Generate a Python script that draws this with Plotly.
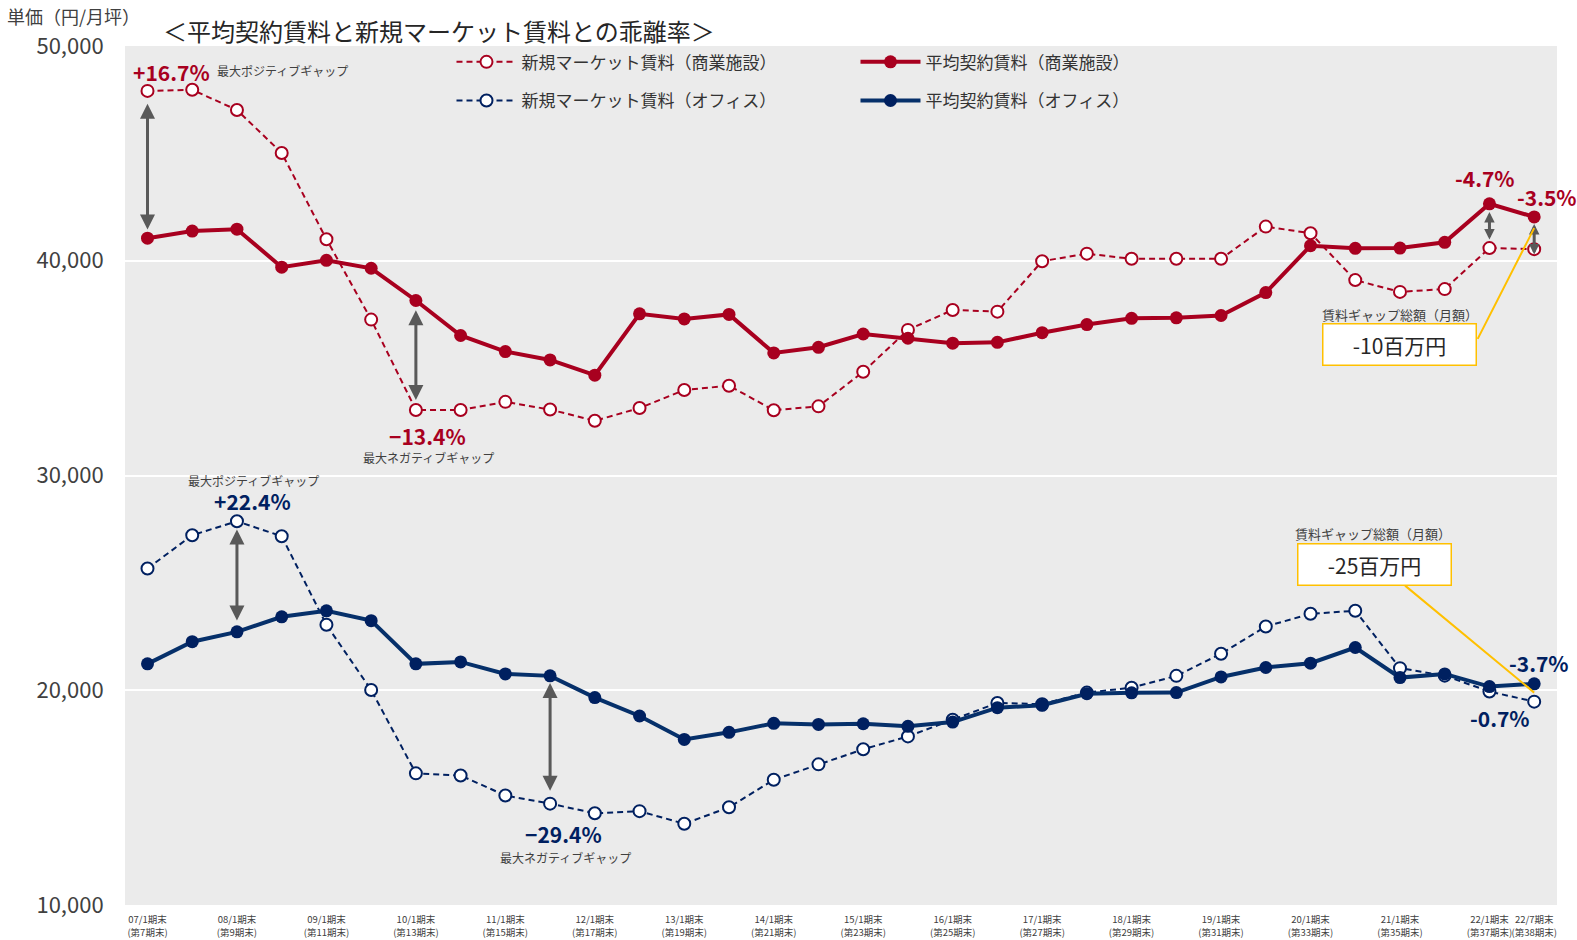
import plotly.graph_objects as go

# 期末ラベル (07/1期末 ~ 22/7期末, 第7期 ~ 第38期)
periods = list(range(32))
tick_pos = list(range(0, 32, 2)) + [31]
tick_text = [f"{y:02d}/1期末<br>(第{7 + 2 * i}期末)" for i, y in enumerate(range(7, 23))] + ["22/7期末<br>(第38期末)"]

# 商業施設
retail_market = [47910, 47960, 47020, 45020, 41000, 37260, 33050, 33050, 33430, 33070, 32550,
                 33140, 33980, 34180, 33040, 33220, 34830, 36780, 37710, 37630, 39980, 40330,
                 40090, 40090, 40090, 41590, 41280, 39100, 38550, 38680, 40590, 40540]
retail_avg = [41050, 41380, 41470, 39700, 40020, 39650, 38150, 36520, 35770, 35380, 34670,
              37530, 37290, 37500, 35710, 35970, 36590, 36390, 36160, 36200, 36650, 37030,
              37320, 37340, 37450, 38520, 40700, 40580, 40590, 40860, 42650, 42040]

# オフィス
office_market = [25670, 27220, 27870, 27170, 23050, 20010, 16130, 16030, 15100, 14720, 14270,
                 14370, 13780, 14550, 15830, 16550, 17250, 17850, 18630, 19410, 19350, 19890,
                 20120, 20670, 21700, 22970, 23560, 23700, 21030, 20680, 19940, 19470]
office_avg = [21230, 22260, 22720, 23420, 23700, 23240, 21230, 21320, 20760, 20670, 19660,
              18800, 17710, 18040, 18460, 18410, 18440, 18320, 18520, 19190, 19300, 19840,
              19880, 19890, 20620, 21060, 21260, 21990, 20590, 20760, 20170, 20300]

RED = "#A8001F"
NAVY = "#002060"
NAVY_LINE = "#06306A"
GREY = "#595959"
YELLOW = "#FFC000"
FONT = "Noto Sans CJK JP"

fig = go.Figure()

fig.add_trace(go.Scatter(
    x=periods, y=retail_market, name="新規マーケット賃料（商業施設）", mode="lines+markers",
    line=dict(color=RED, width=2, dash="6px,4px"),
    marker=dict(size=12, color="white", line=dict(color=RED, width=2)),
    legend="legend",
))
fig.add_trace(go.Scatter(
    x=periods, y=retail_avg, name="平均契約賃料（商業施設）", mode="lines+markers",
    line=dict(color=RED, width=4),
    marker=dict(size=13, color=RED),
    legend="legend",
))
fig.add_trace(go.Scatter(
    x=periods, y=office_market, name="新規マーケット賃料（オフィス）", mode="lines+markers",
    line=dict(color=NAVY, width=2, dash="6px,4px"),
    marker=dict(size=12, color="white", line=dict(color=NAVY, width=2)),
    legend="legend2",
))
fig.add_trace(go.Scatter(
    x=periods, y=office_avg, name="平均契約賃料（オフィス）", mode="lines+markers",
    line=dict(color=NAVY_LINE, width=4),
    marker=dict(size=13, color=NAVY),
    legend="legend2",
))

annotations = []


def label(x, y, text, size=12, color="#404040", bold=False):
    if bold:
        text = f"<b>{text}</b>"
    annotations.append(dict(x=x, y=y, xref="x", yref="y", text=text, showarrow=False,
                            font=dict(size=size, color=color, family=FONT)))


def gap_arrow(x, y0, y1, size=1.0):
    annotations.append(dict(x=x, y=y1, ax=x, ay=y0, xref="x", yref="y", axref="x", ayref="y",
                            text="", showarrow=True, arrowhead=2, startarrowhead=2,
                            arrowside="end+start", arrowsize=size, arrowwidth=3,
                            arrowcolor=GREY, standoff=0, startstandoff=0))


def callout(x, y, text):
    annotations.append(dict(x=x, y=y, xref="x", yref="y", text=text, showarrow=False,
                            width=150, height=38, bgcolor="white", bordercolor=YELLOW,
                            borderwidth=1.5, font=dict(size=21, color="#262626", family=FONT)))


def connector(x0, y0, x1, y1):
    annotations.append(dict(x=x1, y=y1, ax=x0, ay=y0, xref="x", yref="y", axref="x", ayref="y",
                            text="", showarrow=True, arrowhead=0, arrowwidth=2,
                            arrowcolor=YELLOW, standoff=0))


# 商業施設
label(0.54, 48780, "+16.7%", 21, RED, True)
label(3.01, 48880, "最大ポジティブギャップ", 12)
gap_arrow(0, 47380, 41450)
label(6.25, 31840, "−13.4%", 21, RED, True)
label(6.28, 30860, "最大ネガティブギャップ", 12)
gap_arrow(6, 37770, 33520)
label(29.9, 43840, "-4.7%", 21, RED, True)
label(31.29, 42950, "-3.5%", 21, RED, True)
gap_arrow(30, 42340, 40990, 0.7)
gap_arrow(31, 41780, 40290, 0.7)
label(28.01, 37490, "賃料ギャップ総額（月額）", 13)
connector(29.72, 36290, 31, 41520)
callout(27.99, 36090, "-10百万円")

# オフィス
label(2.36, 29790, "最大ポジティブギャップ", 12)
label(2.34, 28810, "+22.4%", 21, NAVY, True)
gap_arrow(2, 27550, 23250)
label(9.29, 13310, "−29.4%", 21, NAVY, True)
label(9.34, 12190, "最大ネガティブギャップ", 12)
gap_arrow(9, 20410, 15320)
label(27.4, 27310, "賃料ギャップ総額（月額）", 13)
connector(28.08, 24930, 31, 19890)
callout(27.42, 25870, "-25百万円")
label(31.11, 21250, "-3.7%", 21, NAVY, True)
label(30.24, 18730, "-0.7%", 21, NAVY, True)

# タイトル・単位
annotations.append(dict(x=0.0253, y=1.0186, xref="paper", yref="paper", xanchor="left",
                        yanchor="middle", showarrow=False,
                        text="＜平均契約賃料と新規マーケット賃料との乖離率＞",
                        font=dict(size=24, color="#262626", family=FONT)))
annotations.append(dict(x=-0.0836, y=1.035, xref="paper", yref="paper", xanchor="left",
                        yanchor="middle", showarrow=False, text="単価（円/月坪）",
                        font=dict(size=18, color="#404040", family=FONT)))

legend_style = dict(orientation="h", xanchor="left", yanchor="middle", x=0.228,
                    bgcolor="rgba(0,0,0,0)", itemwidth=60, entrywidth=329,
                    font=dict(size=17, color="#333333", family=FONT))

fig.update_layout(
    width=1577, height=940,
    margin=dict(l=125, r=20, t=46, b=35, autoexpand=False),
    paper_bgcolor="white",
    plot_bgcolor="#EBEBEB",
    font=dict(family=FONT, color="#333333"),
    showlegend=True,
    legend=dict(legend_style, y=0.981),
    legend2=dict(legend_style, y=0.936),
    annotations=annotations,
    xaxis=dict(range=[-0.503, 31.51], tickmode="array", tickvals=tick_pos, ticktext=tick_text,
               tickangle=0, automargin=False, ticks="outside", ticklen=0,
               ticklabelstandoff=6,
               showgrid=False, zeroline=False, showline=False,
               tickfont=dict(size=9.5, color="#404040", family=FONT)),
    yaxis=dict(range=[10000, 50000], tickvals=[10000, 20000, 30000, 40000, 50000],
               tickformat=",d", showgrid=True, gridcolor="white", gridwidth=1.5,
               zeroline=False, showline=False, ticks="outside", ticklen=0,
               ticklabelstandoff=16, automargin=False,
               tickfont=dict(size=22, color="#404040", family=FONT)),
)

# ページ既定の余白 (8px) を消して図を左上に揃える
fig.write_html("out.html", config={"displayModeBar": False},
               post_script="document.body.style.margin='0';")
